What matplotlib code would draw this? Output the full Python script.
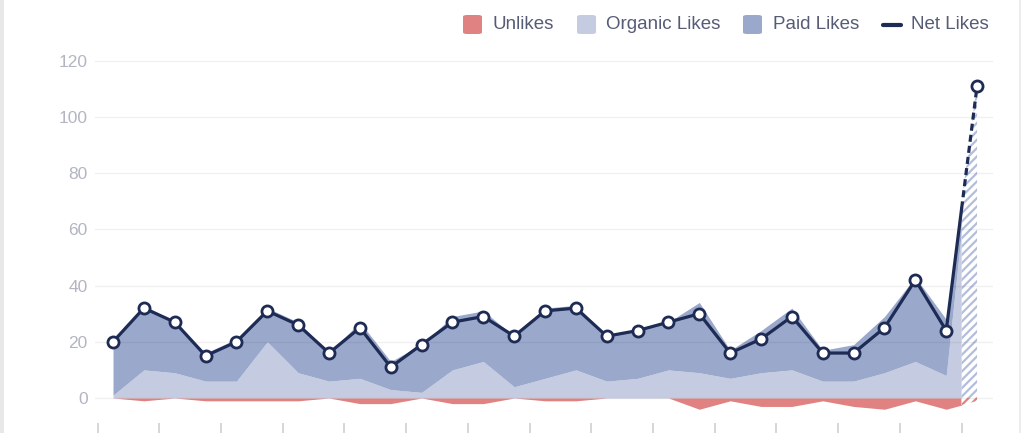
import numpy as np
import matplotlib.pyplot as plt
from matplotlib.patches import FancyBboxPatch, Rectangle
from matplotlib.lines import Line2D

plt.rcParams['font.family'] = ['Liberation Sans', 'DejaVu Sans']
plt.rcParams['hatch.linewidth'] = 1.6

# daily values (last day is partial -> hatched / dashed)
days = np.arange(29)
net_likes = [20, 32, 27, 15, 20, 31, 26, 16, 25, 11, 19, 27, 29, 22, 31, 32,
             22, 24, 27, 30, 16, 21, 29, 16, 16, 25, 42, 24, 111]
organic_likes = [1, 10, 9, 6, 6, 20, 9, 6, 7, 3, 2, 10, 13, 4, 7, 10,
                 6, 7, 10, 9, 7, 9, 10, 6, 6, 9, 13, 8, 112]
unlikes = [0, -1, 0, -1, -1, -1, -1, 0, -2, -2, 0, -2, -2, 0, -1, -1,
           0, 0, 0, -4, -1, -3, -3, -1, -3, -4, -1, -4, -1]
paid_likes = [n - o - u for n, o, u in zip(net_likes, organic_likes, unlikes)]
y_ticks = [0, 20, 40, 60, 80, 100, 120]

c_unlike = '#e08282'
c_org = '#c5cce2'
c_paid = '#9aa9cb'
c_net = '#1d2b55'
c_hatch = '#b3bedb'

org = np.array(organic_likes, float)
paid = np.array(paid_likes, float)
unl = np.array(unlikes, float)
net = np.array(net_likes, float)

# split at the middle of the last interval
mid = days[-2] + 0.5
def split(a):
    m = (a[-2] + a[-1]) / 2
    return np.append(a[:-1], m), np.array([m, a[-1]])

xs = np.append(days[:-1], mid)
xh = np.array([mid, days[-1]])
org_s, org_h = split(org)
top_s, top_h = split(org + paid)
unl_s, unl_h = split(unl)
net_s, net_h = split(net)

fig = plt.figure(figsize=(10.24, 4.33), dpi=100)
ax = fig.add_axes([94.5 / 1024, 9.7 / 433, 898 / 1024, 365.3 / 433])

ax.fill_between(xs, 0, org_s, color=c_org, lw=0, zorder=2)
ax.fill_between(xs, org_s, top_s, color=c_paid, lw=0, zorder=2)
ax.fill_between(xs, unl_s, 0, color=c_unlike, lw=0, zorder=2)

ax.fill_between(xh, unl_h, top_h, facecolor='white', edgecolor=c_hatch,
                hatch='////', lw=0, zorder=2)
ax.fill_between(xh, unl_h, 0, facecolor='white', edgecolor=c_unlike,
                hatch='////', lw=0, zorder=2)

for v in y_ticks:
    ax.axhline(v, color='black', alpha=0.06, lw=1, zorder=3)

ax.plot(xs, net_s, color=c_net, lw=2.3, zorder=4, solid_capstyle='round')
ax.plot(xh, net_h, color=c_net, lw=2.3, ls=(0, (2.2, 1.3)), zorder=4)
ax.plot(days, net, ls='none', marker='o', ms=8, mfc='white', mec=c_net,
        mew=2, zorder=5)

ax.set_xlim(-0.6, 28.5)
ax.set_ylim(-9, 121)
ax.set_yticks(y_ticks)
ax.set_xticks(np.arange(-0.5, 28, 2))
ax.set_xticklabels([])
ax.tick_params(axis='y', length=0, pad=5, labelsize=12.5, labelcolor='#b3b6c2')
ax.tick_params(axis='x', length=7, width=1.2, color='#cfcfcf', direction='out')
for s in ax.spines.values():
    s.set_visible(False)

# legend drawn by hand in pixel space
def fx(x):
    return x / 1024
def fy(y):
    return 1 - y / 433

legend_items = [('Unlikes', c_unlike, 463, 492), ('Organic Likes', c_org, 577, 606),
                ('Paid Likes', c_paid, 743, 773)]
for label, col, px, tx in legend_items:
    fig.add_artist(FancyBboxPatch((fx(px), fy(34)), fx(19), 19 / 433,
                                  boxstyle='round,pad=0,rounding_size=0.004',
                                  transform=fig.transFigure, fc=col, ec='none'))
    fig.text(fx(tx), fy(24.5), label, fontsize=13.5, color='#575c76',
             va='center', ha='left')
fig.add_artist(Line2D([fx(883), fx(901)], [fy(25), fy(25)], color=c_net, lw=3,
                      solid_capstyle='round', transform=fig.transFigure))
fig.text(fx(911), fy(24.5), 'Net Likes', fontsize=13.5, color='#575c76',
         va='center', ha='left')

# page frame
fig.add_artist(Rectangle((0, 0), fx(4), 1, transform=fig.transFigure,
                         fc='#e8e8e8', ec='none'))
fig.add_artist(Rectangle((fx(1019), 0), fx(1.5), 1, transform=fig.transFigure,
                         fc='#ececec', ec='none'))

fig.savefig('out.png', dpi=100)
